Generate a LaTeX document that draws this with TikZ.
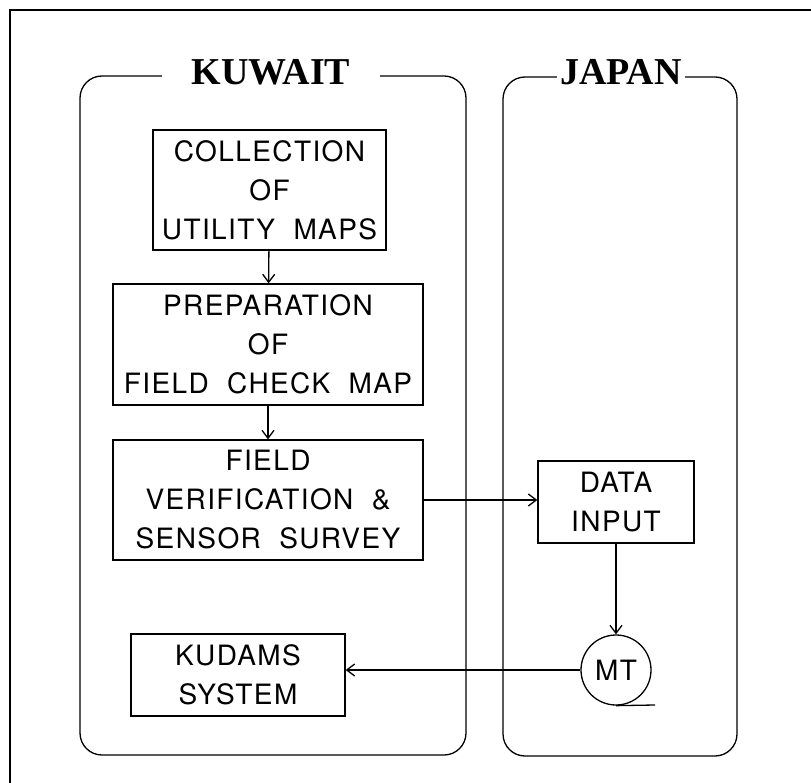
\documentclass[tikz,border=0pt]{standalone}
\usepackage{fontspec}
\setmainfont{Liberation Serif}
\setsansfont[LetterSpace=5,WordSpace=2]{TeX Gyre Heros}
\usetikzlibrary{arrows.meta}

\begin{document}
\begin{tikzpicture}[x=1pt,y=-1pt,line width=1.3pt,
    >={Straight Barb[length=8pt,width=12pt]},
    stepbox/.style={draw,align=center,inner sep=0pt,font=\sffamily\fontsize{28}{39}\selectfont},
    panel/.style={draw,rounded corners=22pt,inner sep=0pt},
    title/.style={fill=white,inner ysep=2pt,font=\bfseries\fontsize{38}{38}\selectfont}]
            \useasboundingbox (0,0) rectangle (811,783);
            \draw (10,783) -- (10,10) -- (811,10);
            % the two sites
            \node[panel,minimum width=386,minimum height=679] (kuwait) at (273,415.5) {};
            \node[panel,minimum width=234,minimum height=679] (japan) at (620,416.5) {};
            \node[title,inner xsep=30pt,anchor=base] (kuwaitlbl) at (271,85) {KUWAIT};
            \node[title,inner xsep=3pt,anchor=base] (japanlbl) at (621,85) {JAPAN};
            % work steps
            \node[stepbox,minimum width=233,minimum height=120] (coll) at (269.5,190) {COLLECTION\\OF\\UTILITY MAPS};
            \node[stepbox,minimum width=310,minimum height=121] (prep) at (268,344.5) {PREPARATION\\OF\\FIELD CHECK MAP};
            \node[stepbox,minimum width=310,minimum height=120] (field) at (268,500) {FIELD\\VERIFICATION \&\\SENSOR SURVEY};
            \node[stepbox,minimum width=156,minimum height=82] (data) at (616,502) {DATA\\INPUT};
            \node[stepbox,circle,minimum size=70] (mt) at (616,670) {MT};
            \node[stepbox,minimum width=214,minimum height=82] (kud) at (238,675) {KUDAMS\\SYSTEM};
            \coordinate (tail) at (655,705);
            \draw[->] (coll) -- (prep);
            \draw[->] (prep) -- (field);
            \draw[->] (field.east) -- (field.east -| data.west);
            \draw[->] (data) -- (mt);
            \draw[->] (mt.west) -- (mt.west -| kud.east);
            \draw (mt.south) -- (tail);
\end{tikzpicture}
\end{document}
